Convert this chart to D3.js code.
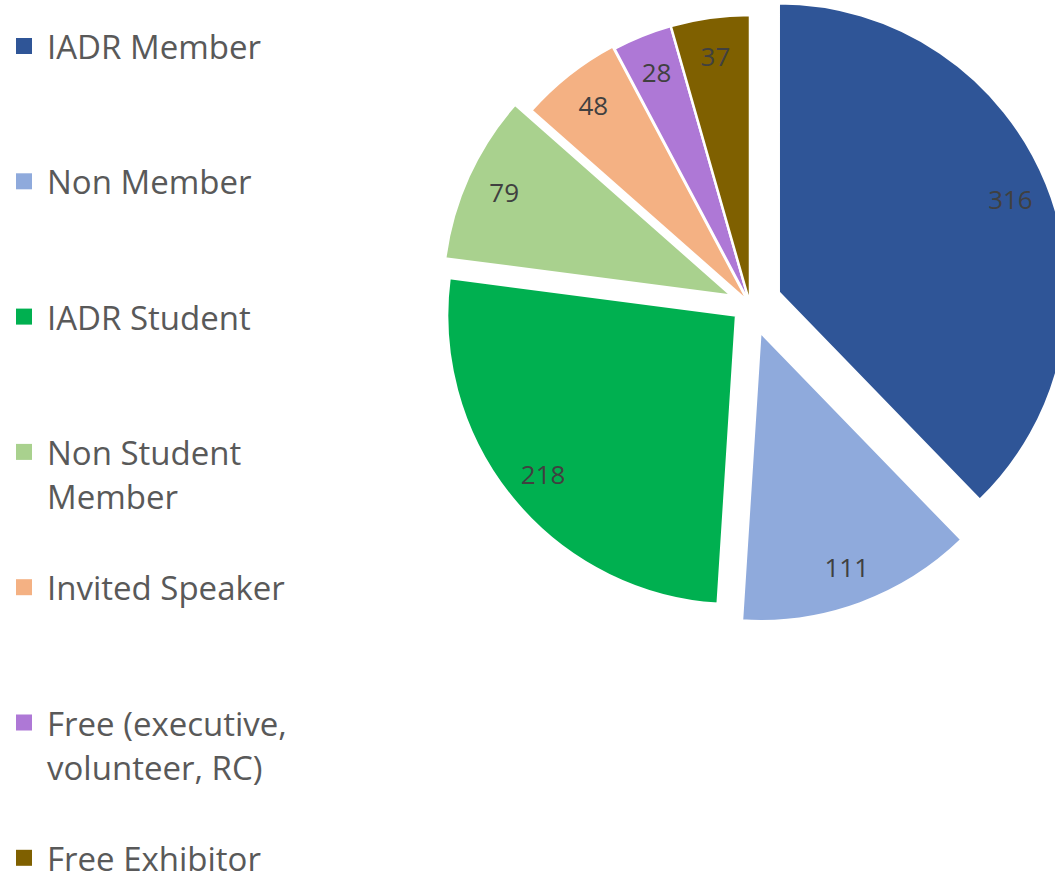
<!DOCTYPE html>
<html>
<head>
<meta charset="utf-8">
<script src="https://cdn.jsdelivr.net/npm/d3@7"></script>
<style>
  body { margin: 0; background: #fff; }
  svg { display: block; font-family: "Open Sans", Lato, sans-serif; }
</style>
</head>
<body>
<div id="chart"></div>
<script>
// registration breakdown
const categories = ["IADR Member", "Non Member", "IADR Student", "Non Student Member",
    "Invited Speaker", "Free (executive, volunteer, RC)", "Free Exhibitor"];
const counts = [316, 111, 218, 79, 48, 28, 37];
const colors = ["#2F5597", "#8FAADC", "#00B050", "#A9D18E", "#F4B183", "#AE78D6", "#7F6000"];
// how far each slice is pulled out of the pie (px)
const explodeBy = [31, 30, 18, 20, 3, 0, 0];

let width = 1055;
let height = 877;

let svg = d3.select("#chart")
    .append("svg")
        .attr("width", width)
        .attr("height", height);

drawPie(svg);
drawLegend(svg);

function drawPie(svg){
    let cx = 750, cy = 304;
    let radius = 289;
    let labelDist = 250;

    let pie = d3.pie().sort(null).value(d => d.value);
    let arc = d3.arc().innerRadius(0).outerRadius(radius);

    let data = counts.map((v, i) => ({value: v, name: categories[i], color: colors[i], explode: explodeBy[i]}));
    let arcs = pie(data);

    let g = svg.append("g")
        .attr("transform", "translate(" + cx + "," + cy + ")");

    let slice = g.selectAll(".slice")
        .data(arcs)
        .enter()
        .append("g")
            .attr("class", "slice")
            .attr("transform", function(d){
                let a = (d.startAngle + d.endAngle) / 2;
                return "translate(" + (Math.sin(a) * d.data.explode) + "," + (-Math.cos(a) * d.data.explode) + ")";
            });

    slice.append("path")
        .attr("d", arc)
        .attr("fill", d => d.data.color)
        .attr("stroke", "#fff")
        .attr("stroke-width", 2.5)
        .attr("stroke-linejoin", "round");

    slice.append("text")
        .attr("x", function(d){ return Math.sin((d.startAngle + d.endAngle) / 2) * labelDist })
        .attr("y", function(d){ return -Math.cos((d.startAngle + d.endAngle) / 2) * labelDist })
        .attr("text-anchor", "middle")
        .attr("dominant-baseline", "central")
        .style("font-size", "26px")
        .attr("fill", "#404040")
        .text(d => d.data.value);
}

function drawLegend(svg){
    let x0 = 16, textX = 47;
    let y0 = 46, step = 135.3;
    let lineH = 44.5;
    let maxW = 270;

    categories.forEach(function(name, i){
        let y = y0 + i * step;
        svg.append("rect")
            .attr("x", x0)
            .attr("y", y - 8)
            .attr("width", 16)
            .attr("height", 16)
            .attr("fill", colors[i]);

        let text = svg.append("text")
            .attr("x", textX)
            .attr("y", y)
            .attr("dominant-baseline", "central")
            .attr("fill", "#595959")
            .style("font-size", "33px");

        // wrap words into lines that fit maxW
        let words = name.split(" ");
        let line = [];
        let tspan = text.append("tspan").attr("x", textX).attr("dy", 0);
        words.forEach(function(w){
            line.push(w);
            tspan.text(line.join(" "));
            if (tspan.node().getComputedTextLength() > maxW && line.length > 1){
                line.pop();
                tspan.text(line.join(" "));
                line = [w];
                tspan = text.append("tspan")
                    .attr("x", textX)
                    .attr("dy", lineH)
                    .text(w);
            }
        });
    });
}
</script>
</body>
</html>
